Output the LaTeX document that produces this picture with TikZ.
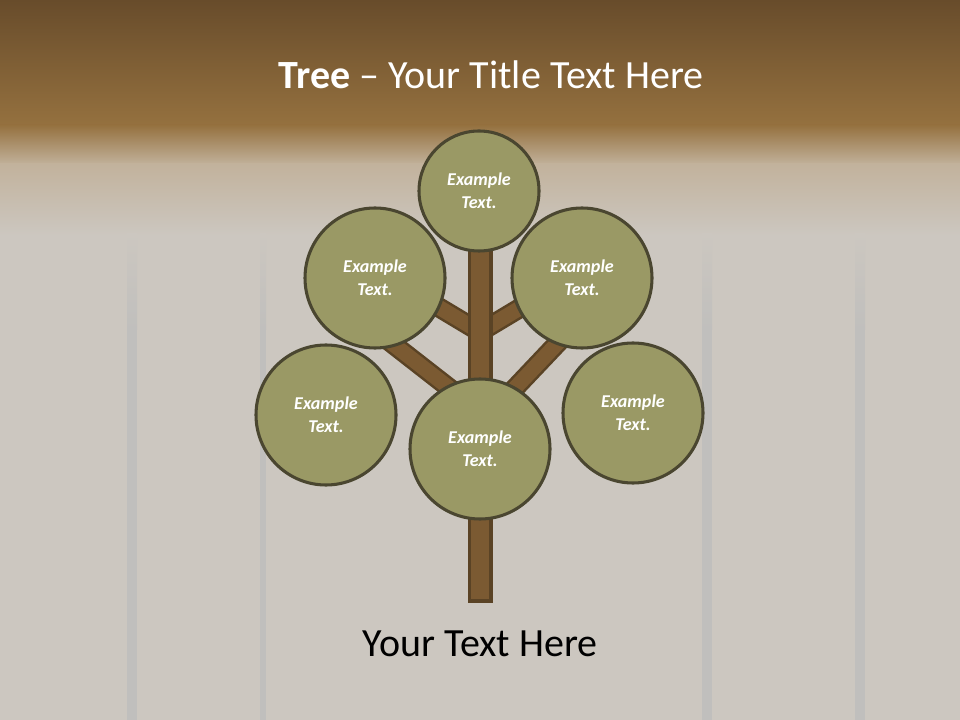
\documentclass[tikz,border=0pt]{standalone}
\usepackage{fontspec}
\setmainfont{Carlito}
\usepackage{xcolor}

\definecolor{bandtop}{HTML}{684C2B}
\definecolor{bandlow}{HTML}{95713F}
\definecolor{woodtan}{HTML}{C2B29C}
\definecolor{woodgray}{HTML}{CCC7C0}
\definecolor{woodseam}{HTML}{C0BFBD}
\definecolor{leaffill}{HTML}{9A9965}
\definecolor{leafline}{HTML}{4A4630}
\definecolor{barkfill}{HTML}{7B5A32}
\definecolor{barkline}{HTML}{5A4325}

\begin{document}
\begin{tikzpicture}[x=0.72pt, y=-0.72pt,
    leaf/.style={circle, draw=leafline, fill=leaffill, line width=2.2pt,
      minimum size=100.8pt, inner sep=0pt, align=center, text=white,
      font=\fontsize{13}{16.5}\selectfont\bfseries\itshape},
    branchout/.style={line width=14.4pt, draw=barkline},
    branchin/.style={line width=10.8pt, draw=barkfill}]
    \useasboundingbox (0,0) rectangle (960,720);
    % Background
    \fill[woodgray] (0,0) rectangle (960,720);
    \shade[top color=bandtop, bottom color=bandlow] (0,0) rectangle (960,126);
    \shade[top color=bandlow, bottom color=woodtan] (0,125) rectangle (960,165);
    \shade[top color=woodtan, bottom color=woodgray] (0,164) rectangle (960,235);
    \foreach \sx/\sw in {132/5, 263/3, 707/5, 860/5} {
      \shade[top color=woodgray, bottom color=woodseam] (\sx-\sw,234) rectangle (\sx+\sw,330);
      \fill[woodseam] (\sx-\sw,329) rectangle (\sx+\sw,720);
    }

    % Title
    \node (title) [text=white, font=\fontsize{28.8}{34}\selectfont] at (491,75)
    {\textbf{Tree} -- Your Title Text Here};

    % Branches
    \coordinate (ulroot) at (480,332);
    \coordinate (ultip) at (420,296);
    \coordinate (urroot) at (480,332);
    \coordinate (urtip) at (540,296);
    \coordinate (llroot) at (480,412);
    \coordinate (lltip) at (380,334);
    \coordinate (lrroot) at (480,425);
    \coordinate (lrtip) at (570,330);
    \foreach \br in {ul, ur, ll, lr} {
      \draw [branchout] (\br root) -- (\br tip);
      \draw [branchin] (\br root) -- (\br tip);
    }

    % Trunk
    \node (trunk) [rectangle, draw=barkline, fill=barkfill, line width=2.2pt,
      minimum width=15.8pt, minimum height=252.7pt, inner sep=0pt] at (480,425.5) {};

    % Leaves
    \node (leaftop) [leaf, minimum size=86.4pt] at (479,191) {Example\\Text.};
    \node (leaful) [leaf] at (375,278) {Example\\Text.};
    \node (leafur) [leaf] at (582,278) {Example\\Text.};
    \node (leafleft) [leaf] at (326,415) {Example\\Text.};
    \node (leafright) [leaf] at (633,413) {Example\\Text.};
    \node (leafmid) [leaf] at (480,449) {Example\\Text.};

    % Caption
    \node (caption) [font=\fontsize{28.8}{34}\selectfont] at (480,644) {Your Text Here};
  \end{tikzpicture}
\end{document}
